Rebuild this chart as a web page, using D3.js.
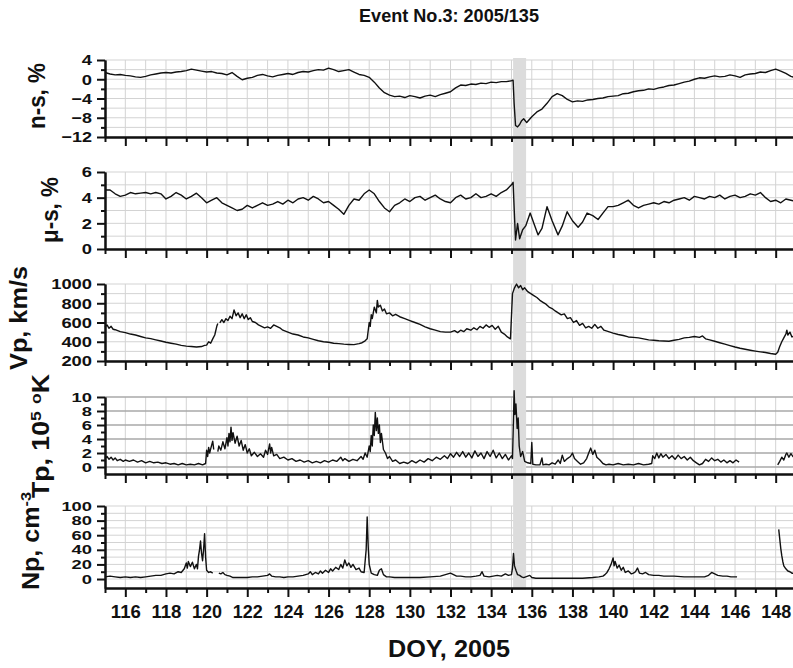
<!DOCTYPE html>
<html>
<head>
<meta charset="utf-8">
<script src="https://cdn.jsdelivr.net/npm/d3@7"></script>
<style>
body { margin: 0; background: #fff; }
svg text { font-family: "Liberation Sans", Arial, sans-serif; font-weight: bold; fill: #111; }
</style>
</head>
<body>
<div id="chart-area"></div>
<script>
// day-of-year ticks
var dayTicks = [116, 118, 120, 122, 124, 126, 128, 130, 132, 134, 136, 138, 140, 142, 144, 146, 148];
var dayMinor = [115, 117, 119, 121, 123, 125, 127, 129, 131, 133, 135, 137, 139, 141, 143, 145, 147, 149];
var eventSpan = [135.08, 135.72];

// n-s, %
var nsTicks = [-12, -8, -4, 0, 4];
var nsMinor = [-10, -6, -2, 2];
var nsData = [[115,1.4],[115.25,1.1],[115.5,0.9],[115.75,1.0],[116,0.8],[116.25,0.7],[116.5,0.5],[116.75,0.4],[117,0.6],[117.25,0.9],[117.5,1.1],[117.75,1.3],[118,1.4],[118.25,1.3],[118.5,1.5],[118.75,1.6],[119,1.8],[119.25,2.1],[119.5,1.9],[119.75,1.7],[120,1.5],[120.25,1.6],[120.5,1.3],[120.75,1.2],[121,0.9],[121.25,1.4],[121.5,0.6],[121.75,-0.1],[122,0.2],[122.25,0.4],[122.5,0.8],[122.75,1.0],[123,0.7],[123.25,0.5],[123.5,0.8],[123.75,1.0],[124,1.2],[124.25,1.0],[124.5,1.4],[124.75,1.6],[125,1.5],[125.25,1.8],[125.5,2.0],[125.75,1.9],[126,2.3],[126.25,2.0],[126.5,1.6],[126.75,1.8],[127,2.0],[127.25,1.5],[127.5,1.0],[127.75,0.8],[128,0.4],[128.25,-0.6],[128.5,-1.8],[128.75,-2.8],[129,-3.3],[129.25,-3.6],[129.5,-3.5],[129.75,-3.8],[130,-3.4],[130.25,-3.6],[130.5,-3.9],[130.75,-3.5],[131,-3.3],[131.25,-3.6],[131.5,-3.2],[131.75,-2.9],[132,-2.6],[132.25,-1.8],[132.5,-1.2],[132.75,-1.3],[133,-1.0],[133.25,-1.1],[133.5,-0.8],[133.75,-0.9],[134,-0.6],[134.25,-0.7],[134.5,-0.5],[134.75,-0.5],[135,-0.3],[135.08,-0.2],[135.13,-5],[135.2,-9.6],[135.3,-9.9],[135.4,-9.4],[135.5,-8.6],[135.6,-8.2],[135.75,-9.0],[136,-7.8],[136.25,-6.8],[136.5,-6.2],[136.75,-5.0],[137,-3.6],[137.25,-3.0],[137.5,-3.4],[137.75,-4.2],[138,-4.7],[138.25,-4.5],[138.5,-4.6],[138.75,-4.3],[139,-4.2],[139.25,-4.0],[139.5,-3.9],[139.75,-3.6],[140,-3.5],[140.25,-3.4],[140.5,-3.0],[140.75,-2.9],[141,-2.6],[141.25,-2.4],[141.5,-2.3],[141.75,-2.0],[142,-2.1],[142.25,-1.8],[142.5,-1.6],[142.75,-1.3],[143,-1.2],[143.25,-0.9],[143.5,-0.6],[143.75,-0.4],[144,0.0],[144.25,0.3],[144.5,0.2],[144.75,0.5],[145,0.7],[145.25,0.5],[145.5,0.6],[145.75,0.9],[146,0.7],[146.25,0.4],[146.5,0.9],[146.75,1.1],[147,1.2],[147.25,1.5],[147.5,1.4],[147.75,1.8],[148,2.1],[148.25,1.7],[148.5,1.2],[148.75,0.6],[149,0.3]];

// mu-s, %
var muTicks = [0, 2, 4, 6];
var muMinor = [1, 3, 5];
var muData = [[115,4.6],[115.25,4.6],[115.5,4.3],[115.75,4.1],[116,4.2],[116.25,4.4],[116.5,4.3],[116.75,4.35],[117,4.4],[117.25,4.3],[117.5,4.4],[117.75,4.3],[118,3.9],[118.25,4.1],[118.5,4.4],[118.75,4.2],[119,3.9],[119.25,4.1],[119.5,4.35],[119.75,4.0],[120,3.6],[120.25,3.8],[120.5,4.0],[120.75,3.6],[121,3.4],[121.25,3.2],[121.5,3.0],[121.75,3.1],[122,3.4],[122.25,3.2],[122.5,3.4],[122.75,3.6],[123,3.4],[123.25,3.5],[123.5,3.7],[123.75,3.5],[124,3.8],[124.25,3.6],[124.5,3.9],[124.75,4.0],[125,3.8],[125.25,4.1],[125.5,3.9],[125.75,3.6],[126,3.7],[126.25,3.4],[126.5,3.1],[126.75,2.7],[127,3.4],[127.25,3.9],[127.5,3.8],[127.75,4.3],[128,4.6],[128.25,4.3],[128.5,3.7],[128.75,3.2],[129,2.9],[129.25,3.4],[129.5,3.6],[129.75,3.9],[130,3.7],[130.25,4.0],[130.5,4.1],[130.75,3.8],[131,4.0],[131.25,4.2],[131.5,3.9],[131.75,3.7],[132,3.6],[132.25,4.0],[132.5,4.2],[132.75,3.9],[133,4.0],[133.25,4.3],[133.5,4.0],[133.75,4.1],[134,4.3],[134.25,4.1],[134.5,4.4],[134.75,4.6],[135,5.0],[135.08,5.2],[135.15,2.5],[135.2,0.7],[135.3,2.0],[135.4,0.8],[135.55,1.5],[135.7,1.8],[135.92,2.8],[136.1,2.0],[136.31,1.1],[136.5,1.6],[136.75,3.3],[137,2.2],[137.29,1.1],[137.5,1.8],[137.74,2.9],[138,2.2],[138.28,1.7],[138.5,2.1],[138.72,2.8],[139,2.6],[139.26,2.3],[139.5,2.8],[139.75,3.3],[140,3.3],[140.25,3.4],[140.5,3.6],[140.75,3.8],[141,3.4],[141.25,3.2],[141.5,3.4],[141.75,3.5],[142,3.6],[142.25,3.5],[142.5,3.7],[142.75,3.6],[143,3.8],[143.25,3.9],[143.5,4.0],[143.75,3.8],[144,4.1],[144.25,4.0],[144.5,3.9],[144.75,4.1],[145,4.0],[145.25,4.2],[145.5,3.9],[145.75,4.1],[146,4.2],[146.25,4.0],[146.5,4.1],[146.75,4.3],[147,4.2],[147.25,4.4],[147.5,4.0],[147.75,3.7],[148,3.8],[148.25,3.6],[148.5,3.9],[148.75,3.8],[149,3.7]];

// Vp, km/s
var vpTicks = [200, 400, 600, 800, 1000];
var vpMinor = [300, 500, 700, 900];
var vpData = [[115,556],[115.1,575],[115.2,540],[115.3,560],[115.4,530],[115.5,525],[115.75,505],[116,495],[116.25,480],[116.5,470],[116.75,455],[117,440],[117.25,432],[117.5,420],[117.75,408],[118,395],[118.25,385],[118.5,375],[118.75,362],[119,355],[119.25,350],[119.5,345],[119.75,350],[119.9,362],[120,365],[120.1,400],[120.2,385],[120.3,430],[120.4,470],[120.5,560],[120.55,590],[120.6,null],[120.65,595],[120.75,630],[120.85,600],[120.95,640],[121.05,620],[121.15,665],[121.25,640],[121.35,730],[121.45,670],[121.55,700],[121.65,650],[121.75,690],[121.85,640],[121.95,680],[122.05,630],[122.15,650],[122.25,610],[122.4,600],[122.55,575],[122.7,560],[122.85,545],[123,555],[123.15,540],[123.3,575],[123.45,560],[123.6,545],[123.75,520],[124,500],[124.25,480],[124.5,470],[124.75,450],[125,440],[125.25,425],[125.5,410],[125.75,400],[126,395],[126.25,385],[126.5,380],[126.75,375],[127,372],[127.25,370],[127.5,380],[127.65,390],[127.8,410],[127.9,430],[128,600],[128.05,560],[128.1,680],[128.15,640],[128.25,760],[128.35,700],[128.4,830],[128.45,760],[128.55,780],[128.65,720],[128.75,740],[128.85,690],[129,700],[129.15,670],[129.3,685],[129.5,660],[129.75,640],[130,620],[130.25,600],[130.5,580],[130.75,555],[131,535],[131.25,520],[131.5,505],[131.75,500],[132,500],[132.2,515],[132.35,495],[132.5,520],[132.65,505],[132.8,535],[133,520],[133.15,545],[133.3,525],[133.45,560],[133.6,540],[133.75,575],[133.9,550],[134.05,570],[134.2,530],[134.35,560],[134.5,500],[134.65,480],[134.8,450],[134.95,430],[135.05,900],[135.15,960],[135.25,1000],[135.35,960],[135.45,985],[135.55,940],[135.65,960],[135.8,920],[135.95,900],[136.1,880],[136.25,860],[136.4,830],[136.55,810],[136.7,790],[136.85,760],[137,745],[137.15,720],[137.3,700],[137.45,680],[137.6,690],[137.75,640],[137.9,650],[138.05,600],[138.2,620],[138.35,570],[138.5,590],[138.65,545],[138.8,560],[138.95,540],[139.1,580],[139.25,540],[139.4,560],[139.55,520],[139.7,510],[139.85,500],[140,490],[140.25,475],[140.5,465],[140.75,450],[141,445],[141.25,440],[141.5,430],[141.75,420],[142,415],[142.25,410],[142.5,408],[142.75,405],[143,415],[143.25,425],[143.5,440],[143.75,445],[144,455],[144.25,445],[144.4,460],[144.55,430],[144.75,420],[145,405],[145.25,390],[145.5,375],[145.75,360],[146,345],[146.25,332],[146.5,322],[146.75,312],[147,303],[147.25,295],[147.5,288],[147.75,278],[148,270],[148.1,290],[148.2,350],[148.3,400],[148.4,440],[148.5,480],[148.55,520],[148.6,470],[148.7,500],[148.8,450],[148.9,460],[149,440]];

// Tp, 10^5 K
var tpTicks = [0, 2, 4, 6, 8, 10];
var tpMinor = [1, 3, 5, 7, 9];
var tpData = [[115,1.2],[115.1,1.5],[115.2,1.1],[115.3,1.4],[115.4,1.0],[115.5,1.3],[115.6,0.9],[115.75,1.1],[115.9,0.8],[116,1.0],[116.2,0.8],[116.4,1.0],[116.6,0.7],[116.8,0.9],[117,0.6],[117.2,0.8],[117.4,0.6],[117.6,0.7],[117.8,0.5],[118,0.6],[118.2,0.4],[118.4,0.5],[118.6,0.3],[118.8,0.5],[119,0.3],[119.2,0.4],[119.4,0.3],[119.6,0.5],[119.8,0.3],[119.95,0.5],[120,2.4],[120.05,1.5],[120.1,2.8],[120.15,2.0],[120.2,2.6],[120.3,3.7],[120.35,2.5],[120.45,null],[120.55,2.2],[120.6,3.0],[120.7,2.4],[120.8,3.6],[120.9,2.6],[121,4.2],[121.05,3.0],[121.1,4.8],[121.15,3.6],[121.2,5.7],[121.25,3.8],[121.3,4.9],[121.4,3.4],[121.5,4.4],[121.6,3.0],[121.7,3.8],[121.8,2.4],[121.9,3.2],[122,2.0],[122.1,2.6],[122.2,1.6],[122.35,2.1],[122.5,1.5],[122.65,1.9],[122.8,1.4],[122.9,2.4],[123,1.8],[123.1,3.3],[123.15,2.0],[123.2,2.8],[123.3,1.6],[123.45,1.8],[123.6,1.2],[123.8,1.4],[124,1.0],[124.2,1.2],[124.4,0.8],[124.6,1.0],[124.8,0.7],[125,0.9],[125.2,0.6],[125.4,0.8],[125.6,0.6],[125.8,0.9],[126,0.7],[126.2,1.0],[126.4,0.8],[126.6,1.4],[126.7,0.9],[126.8,1.2],[127,0.8],[127.2,1.1],[127.4,0.9],[127.6,1.5],[127.7,1.1],[127.8,2.0],[127.9,1.4],[128,3.0],[128.05,2.2],[128.1,4.5],[128.15,3.0],[128.2,6.0],[128.25,4.5],[128.3,7.8],[128.35,5.2],[128.4,7.0],[128.45,4.8],[128.5,6.0],[128.55,3.5],[128.6,4.8],[128.7,2.5],[128.8,2.0],[128.9,1.2],[129,1.5],[129.15,0.8],[129.3,1.0],[129.5,0.5],[129.7,0.7],[129.9,0.5],[130.1,0.9],[130.3,0.6],[130.5,1.0],[130.7,0.7],[130.9,1.2],[131.1,0.9],[131.3,1.4],[131.5,1.1],[131.7,1.6],[131.85,1.2],[132,1.9],[132.15,1.4],[132.3,2.1],[132.45,1.5],[132.6,2.2],[132.75,1.4],[132.9,2.0],[133.05,1.3],[133.2,2.3],[133.35,1.5],[133.5,2.0],[133.65,1.2],[133.8,2.2],[133.95,1.5],[134.1,2.4],[134.25,1.3],[134.4,2.0],[134.55,1.2],[134.7,1.8],[134.85,1.0],[135,1.6],[135.05,1.2],[135.1,7.0],[135.13,10.9],[135.17,7.5],[135.22,9.0],[135.28,5.5],[135.33,7.0],[135.38,3.0],[135.45,1.5],[135.55,2.2],[135.65,0.8],[135.8,0.6],[135.95,0.5],[136,3.5],[136.05,0.4],[136.2,0.3],[136.4,0.3],[136.5,1.3],[136.55,0.3],[136.7,0.4],[136.85,0.3],[137,0.6],[137.15,0.4],[137.3,1.0],[137.4,0.5],[137.5,1.7],[137.6,0.8],[137.75,1.2],[137.9,1.5],[138,2.0],[138.1,1.2],[138.25,0.8],[138.4,0.4],[138.55,0.6],[138.7,1.2],[138.8,2.0],[138.9,2.7],[139,1.8],[139.1,2.4],[139.2,1.4],[139.35,1.0],[139.5,0.5],[139.65,0.3],[139.8,0.4],[140,0.3],[140.25,0.5],[140.5,0.3],[140.75,0.4],[141,0.3],[141.25,0.5],[141.5,0.3],[141.75,0.4],[141.9,0.5],[141.95,1.6],[142.05,1.2],[142.15,2.0],[142.25,1.3],[142.35,1.9],[142.45,1.4],[142.6,1.8],[142.75,1.2],[142.9,1.6],[143.05,1.1],[143.2,1.7],[143.35,1.2],[143.5,1.5],[143.65,1.0],[143.8,1.4],[143.95,0.9],[144.1,0.6],[144.25,0.3],[144.4,0.5],[144.55,1.1],[144.7,0.8],[144.85,1.3],[145,0.9],[145.15,1.1],[145.3,0.7],[145.45,1.0],[145.6,0.6],[145.75,0.9],[145.9,0.6],[146.05,1.0],[146.2,0.7],[146.25,null],[148.1,0.3],[148.2,0.8],[148.3,1.4],[148.4,1.0],[148.5,1.8],[148.55,2.0],[148.65,1.4],[148.75,1.9],[148.85,1.5],[149,1.7]];

// Np, cm^-3
var npTicks = [0, 20, 40, 60, 80, 100];
var npMinor = [10, 30, 50, 70, 90];
var npData = [[115,3],[115.25,4],[115.5,3],[115.75,2],[116,3],[116.25,2],[116.5,3],[116.75,2],[117,3],[117.25,4],[117.5,5],[117.75,5],[118,7],[118.2,8],[118.4,7],[118.6,10],[118.75,9],[118.9,14],[119,22],[119.05,15],[119.1,24],[119.2,17],[119.3,23],[119.4,14],[119.5,20],[119.55,14],[119.6,31],[119.65,40],[119.7,52],[119.75,35],[119.8,25],[119.85,40],[119.9,62],[119.95,30],[120,12],[120.1,9],[120.2,10],[120.3,8],[120.35,null],[120.6,8],[120.7,7],[120.8,9],[120.9,6],[121,5],[121.15,4],[121.3,2],[121.5,2],[121.75,2],[122,2],[122.25,3],[122.5,3],[122.75,4],[123,5],[123.1,7],[123.2,4],[123.4,3],[123.6,3],[123.8,2],[124,3],[124.25,3],[124.5,4],[124.75,5],[125,7],[125.1,10],[125.2,6],[125.35,9],[125.5,7],[125.6,11],[125.7,8],[125.85,12],[126,9],[126.1,14],[126.2,11],[126.35,16],[126.5,13],[126.6,20],[126.7,15],[126.8,26],[126.9,18],[127,22],[127.1,16],[127.2,20],[127.35,13],[127.5,15],[127.6,10],[127.75,9],[127.85,40],[127.9,85],[127.95,45],[128,20],[128.1,8],[128.25,6],[128.4,5],[128.5,12],[128.6,14],[128.7,6],[128.85,3],[129,3],[129.25,2],[129.5,2],[129.75,2],[130,2],[130.5,2],[131,3],[131.5,4],[131.75,6],[132,8],[132.15,6],[132.3,4],[132.5,4],[132.75,3],[133,3],[133.25,4],[133.45,5],[133.55,10],[133.65,4],[133.9,3],[134.1,4],[134.3,5],[134.5,4],[134.7,7],[134.85,5],[135,6],[135.05,15],[135.1,35],[135.15,18],[135.22,12],[135.3,6],[135.4,5],[135.5,3],[135.6,2],[135.7,3],[135.8,4],[135.9,5],[136,2],[136.2,1],[136.5,1],[137,1],[137.5,1],[138,1],[138.5,1],[139,2],[139.3,3],[139.5,4],[139.6,6],[139.7,9],[139.8,14],[139.9,20],[140,29],[140.05,18],[140.1,24],[140.2,15],[140.3,19],[140.4,12],[140.5,16],[140.6,9],[140.75,11],[140.9,7],[141,8],[141.1,10],[141.2,15],[141.3,8],[141.45,7],[141.6,9],[141.75,6],[142,5],[142.25,5],[142.5,4],[142.75,4],[143,4],[143.5,3],[144,3],[144.5,3],[144.7,5],[144.85,9],[145,7],[145.15,5],[145.4,4],[145.6,4],[145.8,3],[146,3],[146.1,3],[146.15,null],[148.15,68],[148.2,55],[148.25,42],[148.3,32],[148.35,24],[148.4,18],[148.5,14],[148.6,11],[148.7,10],[148.8,8],[148.9,8],[149,9]];

var width = 793, height = 668;

var svg = d3.select("#chart-area")
    .append("svg")
    .attr("width", width)
    .attr("height", height);

var x = d3.scaleLinear().domain([115, 149]).range([105, 796]);

var panels = [
    { data: nsData, ticks: nsTicks, minor: nsMinor, domain: [-12, 4], top: 60, bottom: 137,
      labelX: 45, labelY: 96, labelLen: 66, tickFont: 15 },
    { data: muData, ticks: muTicks, minor: muMinor, domain: [0, 6], top: 172, bottom: 249,
      labelX: 58, labelY: 210, labelLen: 66, tickFont: 15 },
    { data: vpData, ticks: vpTicks, minor: vpMinor, domain: [200, 1000], top: 284, bottom: 361,
      labelX: 27, labelY: 318, labelLen: 104, tickFont: 15 },
    { data: tpData, ticks: tpTicks, minor: tpMinor, domain: [-1, 10], top: 397, bottom: 474,
      labelX: 49, labelY: 436, labelLen: 124, tickFont: 13, darkGrid: true },
    { data: npData, ticks: npTicks, minor: npMinor, domain: [-12.3, 100], top: 506, bottom: 588,
      labelX: 39, labelY: 541, labelLen: 98, tickFont: 13 }
];

var gridLayer = svg.append("g");
var shadeLayer = svg.append("g");
var lineLayer = svg.append("g");
var axisLayer = svg.append("g");

var allDays = dayTicks.concat(dayMinor);

// width of a bold tick label as it looks in the picture
function labelWidth(s) {
    return s.replace("-", "").length * 10.2 + (s.indexOf("-") >= 0 ? 6.5 : 0);
}

panels.forEach(function(p, i) {
    var y = d3.scaleLinear().domain(p.domain).range([p.bottom, p.top]);

    gridLayer.selectAll(".vgrid" + i)
        .data(allDays)
        .enter().append("line")
        .attr("x1", d => x(d)).attr("x2", d => x(d))
        .attr("y1", p.top).attr("y2", p.bottom)
        .attr("stroke", "#d3d3d3").attr("stroke-width", 1);

    var hVals = p.darkGrid ? p.ticks : p.ticks.concat(p.minor);
    gridLayer.selectAll(".hgrid" + i)
        .data(hVals)
        .enter().append("line")
        .attr("x1", x(115)).attr("x2", x(149))
        .attr("y1", d => y(d)).attr("y2", d => y(d))
        .attr("stroke", p.darkGrid ? "#a8a8a8" : "#d3d3d3")
        .attr("stroke-width", p.darkGrid ? 1.5 : 1);

    var line = d3.line()
        .defined(d => d[1] != null)
        .x(d => x(d[0]))
        .y(d => y(d[1]));

    lineLayer.append("path")
        .datum(p.data)
        .attr("fill", "none")
        .attr("stroke", "#111")
        .attr("stroke-width", 1.4)
        .attr("stroke-linejoin", "round")
        .attr("d", line);

    // left axis
    var ly = axisLayer.append("g")
        .attr("transform", "translate(" + x(115) + ",0)")
        .call(d3.axisLeft(y).tickValues(p.ticks).tickSize(8).tickSizeOuter(0).tickPadding(5)
            .tickFormat(d3.format("d")));
    ly.selectAll("text")
        .style("font-size", p.tickFont + "px")
        .attr("lengthAdjust", "spacingAndGlyphs")
        .attr("textLength", d => labelWidth(d3.format("d")(d)));
    axisLayer.append("g")
        .attr("transform", "translate(" + x(115) + ",0)")
        .call(d3.axisLeft(y).tickValues(p.minor).tickSize(4).tickSizeOuter(0).tickFormat(""));

    // bottom axis
    var isLast = i === panels.length - 1;
    var bx = axisLayer.append("g")
        .attr("transform", "translate(0," + p.bottom + ")")
        .call(d3.axisBottom(x).tickValues(dayTicks).tickSize(9).tickSizeOuter(0).tickPadding(8)
            .tickFormat(isLast ? d3.format("d") : ""));
    if (isLast) {
        bx.selectAll("text")
            .style("font-size", "18px")
            .attr("lengthAdjust", "spacingAndGlyphs")
            .attr("textLength", 30);
    }
    axisLayer.append("g")
        .attr("transform", "translate(0," + p.bottom + ")")
        .call(d3.axisBottom(x).tickValues(dayMinor).tickSize(5).tickSizeOuter(0).tickFormat(""));
});

axisLayer.selectAll(".domain").attr("stroke", "#111").attr("stroke-width", 2);
axisLayer.selectAll(".tick line").attr("stroke", "#111").attr("stroke-width", 2);

// event shading
shadeLayer.append("rect")
    .attr("x", x(eventSpan[0]))
    .attr("width", x(eventSpan[1]) - x(eventSpan[0]))
    .attr("y", panels[0].top - 2)
    .attr("height", panels[4].bottom - panels[0].top + 4)
    .attr("fill", "#dcdcdc");

// y labels
function yLabel(p, build) {
    var t = svg.append("text")
        .attr("transform", "translate(" + p.labelX + "," + p.labelY + ") rotate(-90)")
        .attr("text-anchor", "middle")
        .attr("lengthAdjust", "spacingAndGlyphs")
        .attr("textLength", p.labelLen)
        .style("font-size", "23px");
    build(t);
}
yLabel(panels[0], t => t.text("n-s, %"));
yLabel(panels[1], t => t.text("\u03bc-s, %"));
yLabel(panels[2], t => t.text("Vp, km/s"));
yLabel(panels[3], function(t) {
    t.append("tspan").text("Tp, 10");
    t.append("tspan").attr("baseline-shift", "super").style("font-size", "15px").text("5");
    t.append("tspan").text(" ");
    t.append("tspan").attr("baseline-shift", "super").style("font-size", "15px").text("o");
    t.append("tspan").text("K");
});
yLabel(panels[4], function(t) {
    t.append("tspan").text("Np, cm");
    t.append("tspan").attr("baseline-shift", "super").style("font-size", "15px").text("-3");
});

svg.append("text")
    .attr("x", 449).attr("y", 22)
    .attr("text-anchor", "middle")
    .attr("lengthAdjust", "spacingAndGlyphs")
    .attr("textLength", 180)
    .style("font-size", "18px")
    .text("Event No.3: 2005/135");

svg.append("text")
    .attr("x", 449).attr("y", 657)
    .attr("text-anchor", "middle")
    .attr("lengthAdjust", "spacingAndGlyphs")
    .attr("textLength", 122)
    .style("font-size", "23px")
    .text("DOY, 2005");
</script>
</body>
</html>
